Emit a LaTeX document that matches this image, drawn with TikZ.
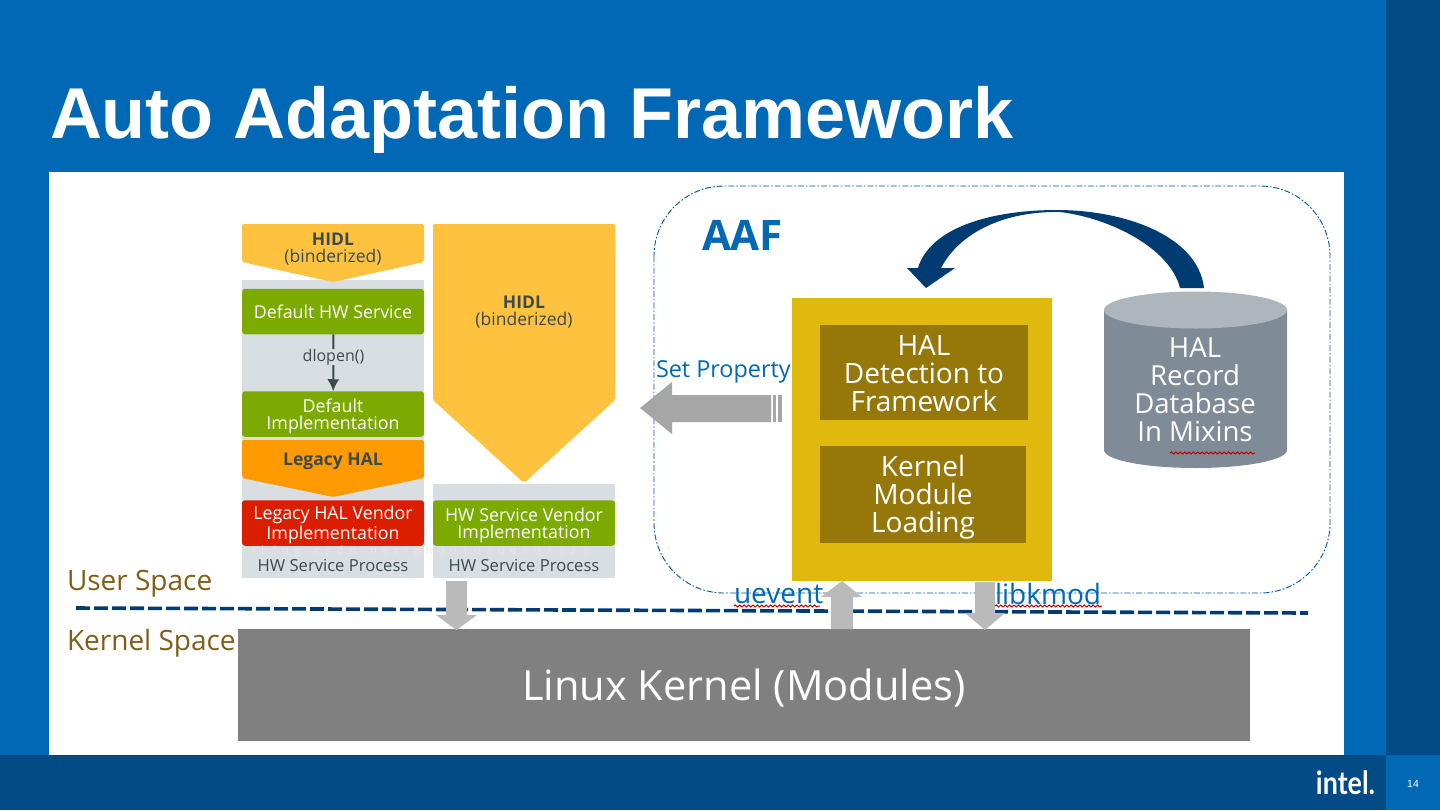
\documentclass[tikz,border=0pt]{standalone}
\usepackage{graphicx}
\usepackage{fontspec}
\setmainfont{Open Sans}
\newfontfamily\arialf{Liberation Sans}
\newfontfamily\logof{Lato}
\newfontfamily\wmf[LetterSpace=50]{Open Sans}
\usetikzlibrary{arrows.meta,decorations.pathmorphing,shapes.geometric}
\definecolor{ibg}{HTML}{0068B5}
\definecolor{idark}{HTML}{004A86}
\definecolor{navy}{HTML}{003C71}
\definecolor{hidl}{HTML}{FFC23E}
\definecolor{lgrey}{HTML}{D8DEE2}
\definecolor{gr}{HTML}{7CAA00}
\definecolor{org}{HTML}{FF9A00}
\definecolor{rd}{HTML}{DC1E00}
\definecolor{yel}{HTML}{E0B90F}
\definecolor{olive}{HTML}{96780A}
\definecolor{brown}{HTML}{7F5F17}
\definecolor{cylb}{HTML}{7F8C97}
\definecolor{cylt}{HTML}{ADB6BD}
\definecolor{stxt}{HTML}{3C4A50}
\newcommand{\fs}[2]{\fontsize{#1}{#2}\selectfont}
\newcommand{\hgt}[1]{\rule{0pt}{#1pt}}
\tikzset{
 x=0.5pt,y=-0.5pt,
 every node/.style={inner sep=0pt,outer sep=0pt,align=center},
 boxn/.style={minimum width=91pt,minimum height=22.75pt,rounded corners=1.5pt,text=white,font=\fs{8.9}{8.5}},
 gbox/.style={boxn,fill=gr},
 rbox/.style={boxn,fill=rd},
 dtxt/.style={text=stxt,font=\fs{8.75}{8.5}},
 inner/.style={fill=olive,text=white,font=\fs{14}{14}},
 squig/.style={draw=red!75!black,line width=0.5pt,decorate,decoration={snake,amplitude=0.5pt,segment length=2.2pt}},
 lab/.style={text=ibg,font=\fs{11.7}{12}},
 wire/.style={text=ibg,font=\fs{14}{14}},
 spacel/.style={text=brown,font=\fs{14}{14},anchor=west},
}
\begin{document}
\begin{tikzpicture}
\useasboundingbox (0,0) rectangle (1440,810);
% slide
\fill[ibg] (0,0) rectangle (1440,810);
\fill[idark] (1386,0) rectangle (1440,755);
\fill[idark] (0,755) rectangle (1386,810);
\fill[white] (49,172) rectangle (1344,755);
\node[anchor=west,text=white,font=\arialf\bfseries\fs{36}{36}] (title) at (50,120) {Auto Adaptation Framework};
\node[text=white,font=\logof\bfseries\fs{16}{16}] (logo) at (1345.5,783) {\scalebox{0.84}[1]{intel.}};
\node[text=white,font=\arialf\fs{5.2}{6}] (page) at (1413,784) {14};
% left stack backgrounds
\fill[lgrey] (242,280) rectangle (424,578);
\fill[lgrey] (433,484) rectangle (615,578);
% chevrons
\fill[hidl,rounded corners=1pt] (242,224) -- (424,224) -- (424,262) -- (333,282) -- (242,262) -- cycle;
\fill[hidl,rounded corners=1pt] (433,224) -- (615,224) -- (615,400) -- (524,483) -- (433,400) -- cycle;
\fill[org,rounded corners=1pt] (242,440) -- (424,440) -- (424,478) -- (333,497) -- (242,478) -- cycle;
\node[dtxt] (h1) at (333,249) {\textbf{HIDL}\\(binderized)};
\node[dtxt] (h2) at (524,312) {\textbf{HIDL}\\(binderized)};
\node[dtxt] (lh) at (333,461.5) {\textbf{Legacy HAL}};
% green/red boxes
\node[gbox] (svc) at (333,311.5) {Default HW Service};
\node[gbox] (impl) at (333,414) {\hgt{8.8}Default\\Implementation};
\node[rbox] (lv) at (333,523) {\hgt{8.8}Legacy HAL Vendor\\Implementation};
\node[gbox] (hv) at (524,523) {\hgt{8.8}HW Service Vendor\\Implementation};
\node[dtxt,font=\fs{8}{8.5}] (dl) at (333.5,357) {dlopen()};
\draw[stxt,line width=1pt] (svc) -- (dl);
\draw[stxt,line width=1pt,-{Latex[length=6pt,width=6pt]}] (dl) -- (impl);
\node[text=black!10,font=\wmf\fs{5.6}{6}] (wm) at (420,552) {/blog.csdn.net/gh0010204802222};
\node[dtxt,font=\fs{8.3}{8.5}] (p1) at (333,565) {HW Service Process};
\node[dtxt,font=\fs{8.3}{8.5}] (p2) at (524,565) {HW Service Process};
% AAF container
\draw[ibg!85!black,line width=0.45pt,rounded corners=35pt,dash pattern=on 3pt off 1pt on 0.8pt off 1pt] (654,186) rectangle (1330,593);
\node[anchor=west,text=ibg,font=\bfseries\fs{21}{21}] (aaf) at (702,235) {AAF};
% kernel + dashed line
\draw[navy,line width=1.8pt,dash pattern=on 7pt off 2pt] (76,608) -- (1308,613);
\node[fill=black!50,minimum width=506pt,minimum height=56pt,text=white,font=\fs{20.8}{21}] (kern) at (744,685) {\hgt{18.8}Linux Kernel (Modules)};
% yellow box
\node[fill=yel,minimum width=130pt,minimum height=141.5pt] (yb) at (922,439.5) {};
\node[inner,minimum width=104pt,minimum height=47.5pt] (det) at (924,372.5) {\hgt{11.6}HAL\\Detection to\\Framework};
\node[inner,minimum width=103pt,minimum height=48.5pt] (mod) at (923,494.5) {\hgt{13.5}Kernel\\Module\\Loading};
% cylinder
\fill[cylb] (1104,310) -- (1104,450) arc[start angle=180,end angle=0,x radius=91.5,y radius=18] -- (1287,310) -- cycle;
\fill[cylt] (1195.5,310) ellipse[x radius=91.5,y radius=18.5];
\node[text=white,font=\fs{13.8}{14}] (db) at (1195,390) {HAL\\Record\\Database\\In Mixins};
\draw[squig] (1170,453) -- (1255,453);
% curved arrow
\fill[navy] (1204,288) .. controls (1198,236) and (1125,210) .. (1057,210)
  .. controls (990,210) and (930,228) .. (918,268) -- (907,268) -- (926,288) -- (955,268) -- (941,268)
  .. controls (960,232) and (1005,211) .. (1060,212)
  .. controls (1110,218) and (1170,248) .. (1180,288) -- cycle;
% Set Property
\node[anchor=west,lab] (sp) at (656,372) {Set Property};
\fill[black!35] (640,408) -- (672,382) -- (672,395) -- (771,395) -- (771,422) -- (672,422) -- (672,434) -- cycle;
\fill[black!35] (773,395) rectangle (776,422);
\fill[black!35] (778,395) rectangle (782,422);
% block arrows
\fill[black!27] (446,581) -- (467,581) -- (467,615) -- (477,615) -- (456.5,630) -- (436,615) -- (446,615) -- cycle;
\fill[black!27] (842,581) -- (862,597) -- (853,597) -- (853,629) -- (831,629) -- (831,597) -- (821,597) -- cycle;
\fill[black!27] (975,582) -- (995,582) -- (995,613) -- (1005,613) -- (985,630) -- (965,613) -- (975,613) -- cycle;
\node[anchor=west,wire] (ue) at (734,594) {uevent};
\node[anchor=west,wire] (lk) at (995,594) {libkmod};
\draw[squig] (734,606) -- (820,606);
\draw[squig] (995,606) -- (1102,606);
% labels
\node[spacel] (us) at (67,584) {User Space};
\node[spacel] (ks) at (67,643) {Kernel Space};
\end{tikzpicture}
\end{document}
